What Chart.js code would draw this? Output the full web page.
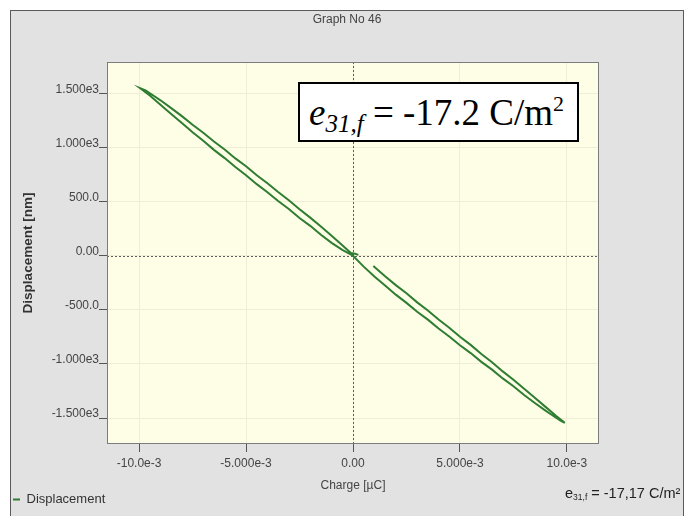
<!DOCTYPE html>
<html><head><meta charset="utf-8">
<script src="https://cdn.jsdelivr.net/npm/chart.js@4"></script>
<style>
html,body{margin:0;padding:0;background:#fff;width:695px;height:516px;overflow:hidden;}
#panel{position:absolute;left:10px;top:10px;width:674px;height:520px;background:#e2e2e2;border:1px solid #5a5a5a;box-sizing:border-box;}
#wrap{position:absolute;left:0;top:0;width:695px;height:516px;}
#note{position:absolute;left:298px;top:82px;width:281px;height:60px;box-sizing:border-box;border:2px solid #000;background:#fff;font-family:"Liberation Serif","Times New Roman",serif;font-size:37px;color:#000;white-space:nowrap;line-height:58px;padding-left:9px;overflow:hidden;}
#note sub{font-size:25px;vertical-align:-7px;line-height:0;}
#note sup{font-size:22px;vertical-align:14px;line-height:0;}
#coef{position:absolute;left:565px;top:485px;font-family:"Liberation Sans",Arial,sans-serif;font-size:14.5px;color:#222;white-space:nowrap;}
#coef sub{font-size:8.5px;vertical-align:-2px;line-height:0;}
</style>
</head><body>
<div id="panel"></div>
<div id="wrap"><canvas id="c" width="695" height="516"></canvas></div>
<div id="note"><i>e</i><sub><i>31,f</i></sub> = -17.2 C/m<sup>2</sup></div>
<div id="coef">e<sub>31,f</sub> = -17,17 C/m²</div>
<script>
// ---- data (charge in units of 1e-3 µC, displacement in nm) ----
const chargeTicks = [-10, -5, 0, 5, 10];
const chargeTickLabels = ["-10.0e-3", "-5.000e-3", "0.00", "5.000e-3", "10.0e-3"];
const dispTicks = [1500, 1000, 500, 0, -500, -1000, -1500];
const dispTickLabels = ["1.500e3", "1.000e3", "500.0", "0.00", "-500.0", "-1.000e3", "-1.500e3"];

const loopCharge = [
  0.95, 1.5, 2.0, 2.5, 3.0, 3.5, 4.0, 4.5, 5.0, 5.5, 6.0, 6.5, 7.0, 7.5, 8.0, 8.5, 9.0, 9.5, 9.9,
  9.7, 9.3, 9.0, 8.5, 8.0, 7.5, 7.0, 6.5, 6.0, 5.5, 5.0, 4.5, 4.0, 3.5, 3.0, 2.5, 2.0, 1.5, 1.0, 0.5, 0.0,
  -0.5, -1.0, -1.5, -2.0, -2.5, -3.0, -3.5, -4.0, -4.5, -5.0, -5.5, -6.0, -6.5, -7.0, -7.5, -8.0, -8.5, -9.0, -9.5, -9.95,
  -9.7, -9.3, -9.0, -8.5, -8.0, -7.5, -7.0, -6.5, -6.0, -5.5, -5.0, -4.5, -4.0, -3.5, -3.0, -2.5, -2.0, -1.5, -1.0, -0.5, -0.1, 0.1, 0.25
];
const loopDisp = [
  -94, -190, -272, -347, -431, -506, -590, -665, -749, -824, -908, -984, -1069, -1146, -1230, -1313, -1397, -1482, -1545,
  -1524, -1472, -1432, -1361, -1287, -1206, -1134, -1053, -981, -900, -827, -746, -672, -591, -518, -436, -360, -276, -192, -101, 0,
  54, 119, 194, 276, 349, 431, 505, 587, 661, 743, 819, 902, 978, 1062, 1140, 1226, 1309, 1395, 1480, 1548,
  1528, 1476, 1436, 1364, 1290, 1210, 1136, 1055, 981, 899, 826, 744, 669, 588, 512, 430, 352, 270, 185, 97, 24, 18, 8
];

const FONT = '"Liberation Sans", Arial, sans-serif';
const points = loopCharge.map((q, i) => ({x: q, y: loopDisp[i]}));

const frame = {
  id: 'frame',
  beforeDraw(chart) {
    const {ctx, chartArea: a} = chart;
    ctx.save();
    ctx.fillStyle = '#fefee7';
    ctx.fillRect(a.left, a.top, a.right - a.left, a.bottom - a.top);
    ctx.restore();
  },
  beforeDatasetsDraw(chart) {
    const {ctx, chartArea: a, scales} = chart;
    const px = Math.round(scales.x.getPixelForValue(0)) + 0.5;
    const py = Math.round(scales.y.getPixelForValue(0)) + 0.5;
    ctx.save();
    ctx.strokeStyle = '#5e5e5e';
    ctx.lineWidth = 1;
    ctx.setLineDash([2, 2]);
    ctx.beginPath();
    ctx.moveTo(px, a.top); ctx.lineTo(px, a.bottom);
    ctx.moveTo(a.left, py); ctx.lineTo(a.right, py);
    ctx.stroke();
    ctx.restore();
  },
  afterDatasetsDraw(chart) {
    const {ctx, chartArea: a} = chart;
    ctx.save();
    ctx.strokeStyle = '#7c7c7c';
    ctx.lineWidth = 1;
    ctx.strokeRect(Math.round(a.left) + 0.5, Math.round(a.top) + 0.5, Math.round(a.right - a.left) - 1, Math.round(a.bottom - a.top) - 1);
    ctx.restore();
  }
};

new Chart(document.getElementById('c'), {
  type: 'scatter',
  data: {
    datasets: [{
      label: 'Displacement',
      data: points,
      showLine: true,
      borderColor: '#2f7d33',
      backgroundColor: '#2f7d33',
      borderWidth: 2,
      pointRadius: 0,
      tension: 0,
      fill: false
    }]
  },
  options: {
    responsive: false,
    animation: false,
    devicePixelRatio: 1,
    layout: {padding: {left: 10, right: 11, top: 0, bottom: 0}},
    plugins: {
      title: {display: true, text: 'Graph No 46', color: '#444', font: {family: FONT, size: 12, weight: 'normal'}, padding: {top: 12, bottom: 35.6}},
      legend: {
        display: true, position: 'bottom', align: 'start',
        labels: {usePointStyle: true, pointStyle: 'line', pointStyleWidth: 7, boxHeight: 5, padding: 3, color: '#333', font: {family: FONT, size: 13}}
      },
      tooltip: {enabled: false}
    },
    scales: {
      x: {
        type: 'linear', position: 'bottom', min: -11.5, max: 11.5,
        afterBuildTicks(s) { s.ticks = chargeTicks.map(v => ({value: v})); },
        afterFit(s) { const lh = (s.chart.legend && s.chart.legend.height) || 26; s.height = s.chart.height - 444 - lh; },
        ticks: {autoSkip: false, maxRotation: 0, color: '#444', font: {family: FONT, size: 12}, padding: 4,
          callback(v) { const i = chargeTicks.indexOf(v); return i >= 0 ? chargeTickLabels[i] : ''; }},
        grid: {color: '#eeedd6', tickColor: '#555', tickLength: 8, lineWidth: 1},
        border: {display: false},
        title: {display: true, text: 'Charge [µC]', color: '#444', font: {family: FONT, size: 12}, padding: {top: 0, bottom: -3}}
      },
      y: {
        type: 'linear', position: 'left', min: -1740, max: 1790,
        afterBuildTicks(s) { s.ticks = dispTicks.map(v => ({value: v})); },
        afterFit(s) { s.width = 97; },
        ticks: {autoSkip: false, color: '#444', font: {family: FONT, size: 12}, padding: 0, labelOffset: -4,
          callback(v) { const i = dispTicks.indexOf(v); return i >= 0 ? dispTickLabels[i] : ''; }},
        grid: {color: '#eeedd6', tickColor: '#555', tickLength: 8, lineWidth: 1},
        border: {display: false},
        title: {display: true, text: 'Displacement [nm]', color: '#333', font: {family: FONT, size: 13.5, weight: 'bold'}, padding: {top: 10, bottom: 0}}
      },
      yr: {
        type: 'linear', position: 'right', display: true,
        afterFit(s) { s.width = 85; },
        ticks: {display: false},
        grid: {display: false, drawTicks: false},
        border: {display: false}
      }
    }
  },
  plugins: [frame]
});
</script>
</body></html>
